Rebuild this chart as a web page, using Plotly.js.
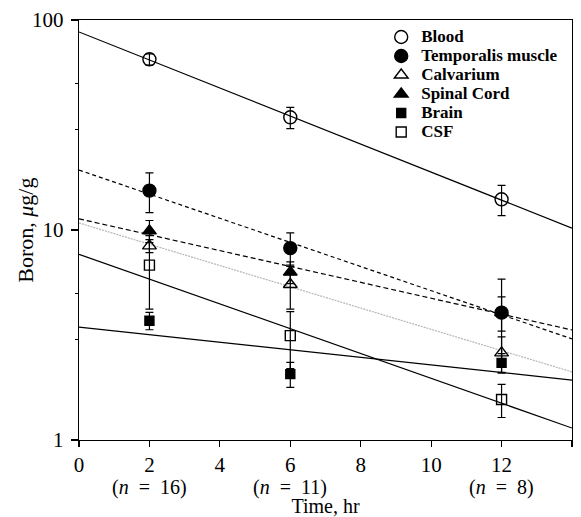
<!DOCTYPE html>
<html>
<head>
<meta charset="utf-8">
<script src="https://cdn.plot.ly/plotly-3.0.1.min.js"></script>
<style>body{margin:0;padding:0;background:#fff;}</style>
</head>
<body>
<div id="chart" style="width:581px;height:517px;"></div>
<script>
// ---- data ----
const times = [2, 6, 12];
const nLabels = ['(<i>n</i>\u2002=\u200216)', '(<i>n</i>\u2002=\u200211)', '(<i>n</i>\u2002=\u20028)'];
const xTicks = [0, 2, 4, 6, 8, 10, 12, 14];
const yTicks = [1, 10, 100];
const yMinorTicks = [3, 5, 30, 50];

const blood = [65.0, 34.4, 14.0];
const bloodErr = [4.0, 4.0, 2.3];
const temporalis = [15.4, 8.2, 4.04];
const temporalisErr = [3.3, 1.5, 1.8];
const calvarium = [8.4, 5.5, 2.6];
const calvariumErr = [0.6, 1.3, 0.5];
const spinal = [9.9, 6.3, 4.05];
const spinalErr = [1.2, 0.75, 0.75];
const brain = [3.7, 2.06, 2.33];
const brainErr = [0.35, 0.28, 0.25];
const csf = [6.8, 3.14, 1.56];
const csfErr = [2.6, 0.95, 0.28];

// fitted regression lines (values at t = 0 and t = 14)
const fitTimes = [0, 14];
const bloodFit = [87.7, 10.2];
const temporalisFit = [19.3, 3.03];
const spinalFit = [11.3, 3.34];
const calvariumFit = [10.8, 2.11];
const brainFit = [3.45, 1.93];
const csfFit = [7.66, 1.14];

const FONT = 'Liberation Serif, Times New Roman, Times, serif';

function fitLine(y, dash, color) {
  return {x: fitTimes, y: y, mode: 'lines', showlegend: false, hoverinfo: 'skip',
          line: {color: color || 'black', width: 1.2, dash: dash || 'solid'}};
}
function pts(name, y, err, symbol, size) {
  return {x: times, y: y, mode: 'markers',
          name: "<span style=\"font-size:17px;font-family:'Liberation Serif',serif;font-weight:bold\">" + name + '</span>',
          marker: {symbol: symbol, size: size, color: 'black', line: {color: 'black', width: 1.4}},
          error_y: {type: 'data', array: err, visible: true, color: 'black', thickness: 1.2, width: 4}};
}

const data = [
  fitLine(bloodFit),
  fitLine(temporalisFit, '4px,3px'),
  fitLine(spinalFit, '5px,3px'),
  fitLine(calvariumFit, '2px,1px', '#b5b5b5'),
  fitLine(brainFit),
  fitLine(csfFit),
  pts('Blood', blood, bloodErr, 'circle-open', 13),
  pts('Temporalis muscle', temporalis, temporalisErr, 'circle', 13),
  pts('Calvarium', calvarium, calvariumErr, 'triangle-up-open', 12),
  pts('Spinal Cord', spinal, spinalErr, 'triangle-up', 12),
  pts('Brain', brain, brainErr, 'square', 9),
  pts('CSF', csf, csfErr, 'square-open', 10)
];

const annotations = times.map((t, i) => ({
  x: t, xref: 'x', y: -0.112, yref: 'paper', yanchor: 'middle', xanchor: 'center',
  text: nLabels[i], showarrow: false, font: {family: FONT, size: 20, color: 'black'}
}));
annotations.push({
  x: -0.11, xref: 'paper', y: 0.5, yref: 'paper', xanchor: 'center', yanchor: 'middle',
  textangle: -90, text: 'Boron, <i>μ</i>g/g', showarrow: false,
  font: {family: FONT, size: 22, color: 'black'}
});

const layout = {
  width: 581, height: 517,
  margin: {l: 79, r: 9, t: 20, b: 77},
  paper_bgcolor: 'white', plot_bgcolor: 'white',
  font: {family: FONT, size: 21, color: 'black'},
  showlegend: true,
  legend: {x: 0.613, y: 0.994, xanchor: 'left', yanchor: 'top', bgcolor: 'rgba(0,0,0,0)',
           borderwidth: 0, font: {family: FONT, size: 12, color: 'black'}, tracegroupgap: 0},
  xaxis: {range: [0, 14], tickvals: xTicks, ticks: 'outside', ticklen: 6, tickwidth: 1.2,
          tickcolor: 'black', showline: true, linewidth: 1.2, linecolor: 'black', mirror: true,
          showgrid: false, zeroline: false, ticklabelstandoff: 0,
          tickfont: {family: FONT, size: 21, color: 'black'},
          title: {text: 'Time, hr', font: {family: FONT, size: 20, color: 'black'}, standoff: 32}},
  xaxis2: {overlaying: 'x', anchor: 'y', side: 'bottom', range: [0, 14], tickvals: xTicks,
           ticks: 'inside', ticklen: 4, tickwidth: 1.2, tickcolor: 'black', showticklabels: false,
           showline: false, showgrid: false, zeroline: false},
  yaxis: {type: 'log', range: [0, 2], tickvals: yTicks, ticktext: yTicks.map(String),
          ticks: 'outside', ticklen: 7, tickwidth: 1.2, tickcolor: 'black',
          minor: {tickvals: yMinorTicks, ticks: 'outside', ticklen: 3, tickwidth: 1.2, tickcolor: 'black'},
          showline: true, linewidth: 1.2, linecolor: 'black', mirror: true,
          showgrid: false, zeroline: false, ticklabelstandoff: 3,
          tickfont: {family: FONT, size: 21, color: 'black'}},
  yaxis2: {type: 'log', overlaying: 'y', anchor: 'x', side: 'left', range: [0, 2],
           tickvals: [3, 5, 10, 30, 50], ticks: 'inside', ticklen: 4, tickwidth: 1.2, tickcolor: 'black',
           showticklabels: false, showline: false, showgrid: false, zeroline: false},
  annotations: annotations
};

Plotly.newPlot('chart', data, layout, {displayModeBar: false, staticPlot: true});
</script>
</body>
</html>
